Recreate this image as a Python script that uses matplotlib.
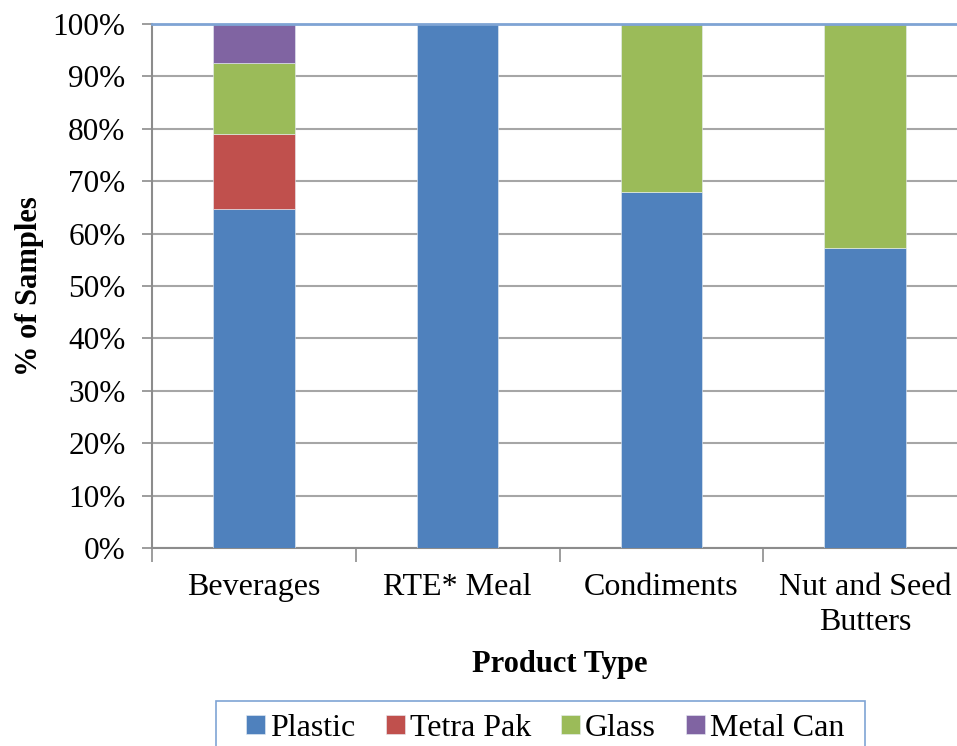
import matplotlib.pyplot as plt
from matplotlib.patches import Rectangle
import numpy as np

plt.rcParams['font.family'] = ['Liberation Serif', 'DejaVu Serif']

categories = ['Beverages', 'RTE* Meal', 'Condiments', 'Nut and Seed\nButters']
series_names = ['Plastic', 'Tetra Pak', 'Glass', 'Metal Can']
plastic = [64.6, 100.0, 68.0, 57.2]
tetra_pak = [14.4, 0.0, 0.0, 0.0]
glass = [13.5, 0.0, 32.0, 42.8]
metal_can = [7.5, 0.0, 0.0, 0.0]
colors = ['#4f81bd', '#c0504d', '#9bbb59', '#8064a2']

W, H = 957, 746
fig = plt.figure(figsize=(W / 100, H / 100), dpi=100)
ax = fig.add_axes([152 / W, 1 - 548 / H, 815 / W, 524 / H])

x = np.arange(len(categories))
bottom = np.zeros(len(categories))
for name, vals, c in zip(series_names, [plastic, tetra_pak, glass, metal_can], colors):
    vals = np.array(vals)
    ax.bar(x, vals, width=0.4, bottom=bottom, color=c, label=name,
           edgecolor='#e8eef5', linewidth=0.4, zorder=3)
    bottom += vals

ax.set_xlim(-0.5, len(categories) - 0.5)
ax.set_ylim(0, 100)
ax.set_yticks(np.arange(0, 101, 10))
ax.set_yticklabels([f'{v}%' for v in range(0, 101, 10)], fontsize=22.5)

# category labels sit between the boundary ticks
ax.set_xticks(np.arange(-0.5, len(categories), 1.0))
ax.set_xticklabels([])
ax.set_xticks(x, minor=True)
ax.set_xticklabels(categories, minor=True, fontsize=23, linespacing=1.25)
ax.tick_params(axis='x', which='minor', length=0, pad=18)
ax.tick_params(axis='x', which='major', length=10, width=1.2, color='#8c8c8c', direction='out')
ax.tick_params(axis='y', length=7, width=1.2, color='#8c8c8c', pad=12)

ax.grid(axis='y', color='#a6a6a6', linewidth=1.5, zorder=0)
ax.axhline(100, color='#7fa4d4', linewidth=2, zorder=4, clip_on=False)
for s in ['top', 'right']:
    ax.spines[s].set_visible(False)
for s in ['left', 'bottom']:
    ax.spines[s].set_color('#8c8c8c')
    ax.spines[s].set_linewidth(1.5)

ax.set_ylabel('% of Samples', fontsize=22, fontweight='bold', labelpad=6)
ax.set_xlabel('Product Type', fontsize=22, fontweight='bold', labelpad=10)

# legend box runs off the bottom edge of the figure
fig.patches.append(Rectangle((216 / W, -0.05), (865 - 216) / W, 0.05 + 1 - 701 / H,
                             transform=fig.transFigure, facecolor='white',
                             edgecolor='#7fa4d4', linewidth=1.2, zorder=1))
leg = fig.legend(loc='upper left', bbox_to_anchor=(246 / W, 1 - 714 / H),
                 ncol=4, fontsize=23, frameon=False,
                 handlelength=0.6, handleheight=0.56, handletextpad=0.15,
                 columnspacing=0.95, borderpad=0, borderaxespad=0)
leg.set_zorder(2)

fig.savefig('out.png', dpi=100)
